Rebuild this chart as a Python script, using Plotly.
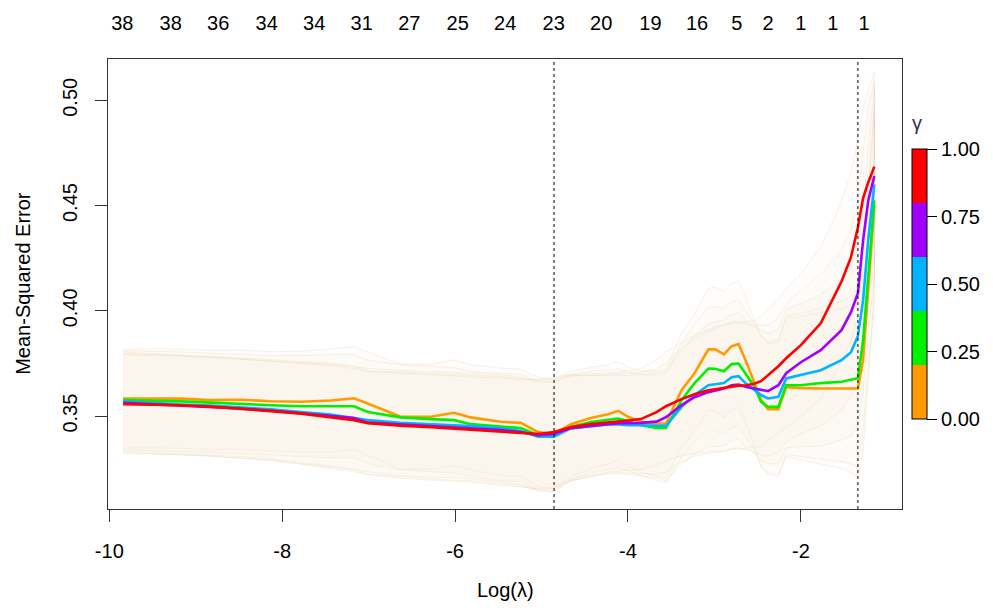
import plotly.graph_objects as go

# ---------------- data ----------------
log_lambda = [-9.84, -9.52, -9.17, -8.83, -8.48, -8.13, -7.78, -7.44, -7.17, -7.01,
              -6.63, -6.28, -6.01, -5.82, -5.47, -5.24, -5.04, -4.86, -4.66, -4.43,
              -4.23, -4.11, -4.00, -3.85, -3.67, -3.56, -3.38, -3.23, -3.07, -2.99,
              -2.89, -2.80, -2.72, -2.63, -2.54, -2.46, -2.38, -2.26, -2.17, -2.00,
              -1.77, -1.53, -1.42, -1.34, -1.28, -1.22, -1.15]

gammas = [0.0, 0.25, 0.5, 0.75, 1.0]

mse_g000 = [0.3584, 0.3584, 0.3583, 0.3576, 0.3578, 0.3571, 0.3568, 0.3574, 0.3585, 0.3560,
            0.3497, 0.3497, 0.3516, 0.3494, 0.3473, 0.3468, 0.3424, 0.3415, 0.3462, 0.3491,
            0.3509, 0.3525, 0.3497, 0.3473, 0.3465, 0.3465, 0.3623, 0.3704, 0.3817, 0.3817,
            0.3793, 0.3832, 0.3842, 0.3756, 0.3657, 0.3576, 0.3533, 0.3533, 0.3638, 0.3633,
            0.3631, 0.3631, 0.3631, 0.3631, 0.3766, 0.4098, 0.4502]
mse_g025 = [0.3576, 0.3574, 0.3570, 0.3564, 0.3557, 0.3552, 0.3547, 0.3547, 0.3547, 0.3520,
            0.3494, 0.3486, 0.3481, 0.3462, 0.3449, 0.3443, 0.3410, 0.3403, 0.3449, 0.3472,
            0.3483, 0.3489, 0.3476, 0.3457, 0.3444, 0.3444, 0.3576, 0.3657, 0.3726, 0.3725,
            0.3713, 0.3747, 0.3750, 0.3695, 0.3642, 0.3568, 0.3544, 0.3544, 0.3647, 0.3647,
            0.3657, 0.3663, 0.3673, 0.3680, 0.3861, 0.4160, 0.4525]
mse_g050 = [0.3570, 0.3562, 0.3555, 0.3550, 0.3543, 0.3533, 0.3520, 0.3507, 0.3491, 0.3481,
            0.3468, 0.3462, 0.3457, 0.3453, 0.3442, 0.3429, 0.3402, 0.3402, 0.3442, 0.3453,
            0.3461, 0.3460, 0.3457, 0.3457, 0.3455, 0.3454, 0.3544, 0.3600, 0.3647, 0.3652,
            0.3657, 0.3685, 0.3690, 0.3652, 0.3623, 0.3600, 0.3584, 0.3592, 0.3679, 0.3695,
            0.3718, 0.3766, 0.3804, 0.3880, 0.4050, 0.4340, 0.4600]
mse_g075 = [0.3563, 0.3557, 0.3550, 0.3545, 0.3536, 0.3526, 0.3514, 0.3502, 0.3491, 0.3469,
            0.3460, 0.3453, 0.3445, 0.3443, 0.3434, 0.3424, 0.3410, 0.3415, 0.3443, 0.3453,
            0.3464, 0.3467, 0.3467, 0.3468, 0.3474, 0.3495, 0.3552, 0.3590, 0.3614, 0.3623,
            0.3631, 0.3647, 0.3650, 0.3638, 0.3631, 0.3623, 0.3619, 0.3647, 0.3704, 0.3756,
            0.3813, 0.3908, 0.3994, 0.4084, 0.4335, 0.4525, 0.4640]
mse_g100 = [0.3557, 0.3555, 0.3552, 0.3545, 0.3536, 0.3524, 0.3512, 0.3495, 0.3481, 0.3467,
            0.3455, 0.3448, 0.3441, 0.3436, 0.3426, 0.3419, 0.3415, 0.3424, 0.3448, 0.3462,
            0.3469, 0.3474, 0.3479, 0.3486, 0.3519, 0.3547, 0.3581, 0.3604, 0.3623, 0.3628,
            0.3635, 0.3642, 0.3645, 0.3647, 0.3654, 0.3666, 0.3695, 0.3737, 0.3775, 0.3837,
            0.3941, 0.4139, 0.4255, 0.4397, 0.4535, 0.4611, 0.4685]

# standard error of the CV estimate (half-width of the bands)
cv_se = [0.0235, 0.0235, 0.0235, 0.0235, 0.0235, 0.0235, 0.0240, 0.0245, 0.0245, 0.0245,
         0.0250, 0.0250, 0.0250, 0.0250, 0.0255, 0.0255, 0.0260, 0.0260, 0.0250, 0.0240,
         0.0235, 0.0235, 0.0235, 0.0240, 0.0250, 0.0260, 0.0270, 0.0280, 0.0290, 0.0295,
         0.0300, 0.0300, 0.0300, 0.0300, 0.0300, 0.0310, 0.0310, 0.0320, 0.0330, 0.0340,
         0.0360, 0.0380, 0.0400, 0.0420, 0.0430, 0.0440, 0.0450]

gamma_colors = ["#FF9B00", "#00F000", "#00B4FF", "#A000FF", "#FF0000"]

lambda_min_log = -4.855
lambda_1se_log = -1.34

top_tick_pos = [-9.85, -9.29, -8.74, -8.18, -7.63, -7.08, -6.53, -5.97, -5.42, -4.86,
                -4.31, -3.74, -3.20, -2.74, -2.38, -2.00, -1.63, -1.27]
top_tick_labels = ["38", "38", "36", "34", "34", "31", "27", "25", "24", "23",
                   "20", "19", "16", "5", "2", "1", "1", "1"]

x_ticks = [-10, -8, -6, -4, -2]
y_ticks = [0.35, 0.40, 0.45, 0.50]
cbar_ticks = [0.0, 0.25, 0.5, 0.75, 1.0]

# ---------------- figure ----------------
FONT = "Arial, Liberation Sans, sans-serif"
FS = 20
series = [mse_g000, mse_g025, mse_g050, mse_g075, mse_g100]

fig = go.Figure()

# SE bands
for m in series:
    up = [a + s for a, s in zip(m, cv_se)]
    lo = [a - s for a, s in zip(m, cv_se)]
    fig.add_trace(go.Scatter(
        x=log_lambda + log_lambda[::-1], y=up + lo[::-1],
        mode="lines", fill="toself",
        fillcolor="rgba(250,235,215,0.11)",
        line=dict(color="rgba(235,205,170,0.3)", width=1),
        hoverinfo="skip", showlegend=False))

# mean curves
for m, c, g in zip(series, gamma_colors, gammas):
    fig.add_trace(go.Scatter(
        x=log_lambda, y=m, mode="lines",
        line=dict(color=c, width=2.6),
        name=f"gamma={g}", showlegend=False))

# colour key
cscale = []
for i, c in enumerate(gamma_colors):
    cscale.append([i / 5, c])
    cscale.append([(i + 1) / 5, c])
fig.add_trace(go.Scatter(
    x=[None] * len(gammas), y=[None] * len(gammas), mode="markers",
    marker=dict(color=gammas, colorscale=cscale, cmin=0, cmax=1, showscale=True,
                colorbar=dict(
                    x=1.0126, xanchor="left", xpad=0,
                    y=0.499, yanchor="middle", ypad=0,
                    thickness=15, thicknessmode="pixels",
                    len=270, lenmode="pixels",
                    outlinecolor="black", outlinewidth=1,
                    tickmode="array", tickvals=cbar_ticks,
                    ticktext=[f"{v:.2f}" for v in cbar_ticks],
                    ticks="outside", ticklen=10, tickcolor="black",
                    tickfont=dict(family=FONT, size=FS, color="black"))),
    hoverinfo="skip", showlegend=False))

# top axis companion trace
fig.add_trace(go.Scatter(x=[None], y=[None], xaxis="x2", yaxis="y",
                         showlegend=False, hoverinfo="skip"))

for xv in [lambda_min_log, lambda_1se_log]:
    fig.add_shape(type="line", x0=xv, x1=xv, xref="x", y0=0, y1=1, yref="y domain",
                  line=dict(color="black", width=1, dash="dot"))

fig.add_annotation(text="γ", x=1.0195, y=0.857, xref="paper", yref="paper",
                   xanchor="center", yanchor="middle", showarrow=False,
                   font=dict(family=FONT, size=FS, color="#333355"))
fig.add_annotation(text="Log(λ)", x=0.5, y=-0.18, xref="paper", yref="paper",
                   xanchor="center", yanchor="middle", showarrow=False,
                   font=dict(family=FONT, size=FS, color="black"))
fig.add_annotation(text="Mean-Squared Error", x=-0.108, y=0.501, xref="paper", yref="paper",
                   xanchor="center", yanchor="middle", textangle=-90, showarrow=False,
                   font=dict(family=FONT, size=FS, color="black"))

fig.update_layout(
    width=993, height=610,
    margin=dict(l=108, r=91, t=59, b=101, pad=0),
    paper_bgcolor="white", plot_bgcolor="white",
    font=dict(family=FONT, size=FS, color="black"),
    xaxis=dict(range=[-10.015, -0.83], tickmode="array", tickvals=x_ticks,
               ticktext=[str(v) for v in x_ticks],
               showgrid=False, zeroline=False,
               showline=True, mirror=True, linecolor="#333333", linewidth=1.2,
               ticks="outside", ticklen=12, tickcolor="#333333",
               ticklabelstandoff=12),
    xaxis2=dict(overlaying="x", matches="x", side="top", tickmode="array",
                tickvals=top_tick_pos, ticktext=top_tick_labels,
                showgrid=False, zeroline=False, showline=False, ticks="",
                ticklabelstandoff=24),
    yaxis=dict(range=[0.3059, 0.5196], tickmode="array", tickvals=y_ticks,
               ticktext=[f"{v:.2f}" for v in y_ticks], tickangle=-90,
               showgrid=False, zeroline=False,
               showline=True, mirror=True, linecolor="#333333", linewidth=1.2,
               ticks="outside", ticklen=12, tickcolor="#333333",
               ticklabelstandoff=10),
)

fig.write_html("out.html")
